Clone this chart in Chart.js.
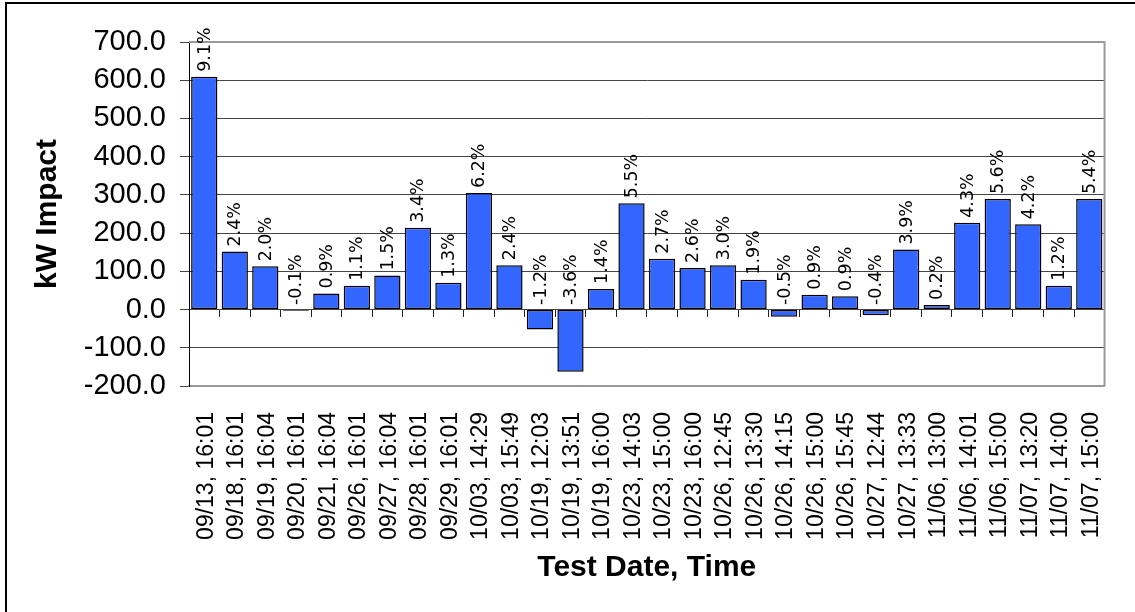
<!DOCTYPE html>
<html>
<head>
<meta charset="utf-8">
<script src="https://cdn.jsdelivr.net/npm/chart.js@4.4.0/dist/chart.umd.min.js"></script>
<style>
  body { margin: 0; background: #fff; overflow: hidden; }
  #frame {
    position: absolute; left: 5px; top: 2px; width: 1200px; height: 700px;
    border-left: 2px solid #000; border-top: 2px solid #000;
  }
  #wrap { position: absolute; left: 0; top: 0; width: 1135px; height: 612px; }
</style>
</head>
<body>
<div id="frame"></div>
<div id="wrap"><canvas id="impact-chart"></canvas></div>
<script>
// tanggal / jam pengujian
const testLabels = [
  "09/13, 16:01", "09/18, 16:01", "09/19, 16:04", "09/20, 16:01", "09/21, 16:04",
  "09/26, 16:01", "09/27, 16:04", "09/28, 16:01", "09/29, 16:01", "10/03, 14:29",
  "10/03, 15:49", "10/19, 12:03", "10/19, 13:51", "10/19, 16:00", "10/23, 14:03",
  "10/23, 15:00", "10/23, 16:00", "10/26, 12:45", "10/26, 13:30", "10/26, 14:15",
  "10/26, 15:00", "10/26, 15:45", "10/27, 12:44", "10/27, 13:33", "11/06, 13:00",
  "11/06, 14:01", "11/06, 15:00", "11/07, 13:20", "11/07, 14:00", "11/07, 15:00",
];

// kW impact per test
const kwImpact = [
  609, 152, 113, -3, 42, 62, 89, 214, 70, 305,
  116, -52, -163, 54, 278, 133, 109, 116, 78, -19,
  39, 35, -15, 157, 12, 227, 289, 223, 62, 289,
];

// persentase di atas tiap batang
const pctLabels = [
  "9.1%", "2.4%", "2.0%", "-0.1%", "0.9%", "1.1%", "1.5%", "3.4%", "1.3%", "6.2%",
  "2.4%", "-1.2%", "-3.6%", "1.4%", "5.5%", "2.7%", "2.6%", "3.0%", "1.9%", "-0.5%",
  "0.9%", "0.9%", "-0.4%", "3.9%", "0.2%", "4.3%", "5.6%", "4.2%", "1.2%", "5.4%",
];

const yTicks = [-200, -100, 0, 100, 200, 300, 400, 500, 600, 700];

// label persen, diputar 90 derajat di atas batang
const pctLabelPlugin = {
  id: "pctLabels",
  afterDatasetsDraw(chart) {
    const ctx = chart.ctx;
    const meta = chart.getDatasetMeta(0);
    ctx.save();
    ctx.fillStyle = "#000";
    ctx.font = "17.5px 'DejaVu Sans'";
    ctx.textAlign = "left";
    ctx.textBaseline = "middle";
    meta.data.forEach((bar, i) => {
      const top = Math.min(bar.y, bar.base);
      ctx.save();
      ctx.translate(bar.x + 1, top - 5);
      ctx.rotate(-Math.PI / 2);
      ctx.fillText(pctLabels[i], 0, 0);
      ctx.restore();
    });
    ctx.restore();
  },
};

// garis tepi atas & kanan area plot
const plotBorderPlugin = {
  id: "plotBorder",
  beforeDatasetsDraw(chart) {
    const { ctx, chartArea } = chart;
    ctx.save();
    ctx.strokeStyle = "#999";
    ctx.lineWidth = 2;
    ctx.beginPath();
    ctx.moveTo(chartArea.left, chartArea.top);
    ctx.lineTo(chartArea.right, chartArea.top);
    ctx.lineTo(chartArea.right, chartArea.bottom);
    ctx.stroke();
    ctx.restore();
  },
};

const ctx = document.getElementById("impact-chart").getContext("2d");
new Chart(ctx, {
  type: "bar",
  data: {
    labels: testLabels,
    datasets: [
      {
        label: "kW Impact",
        data: kwImpact,
        xAxisID: "x",
        yAxisID: "y",
        backgroundColor: "#3366ff",
        borderColor: "#000",
        borderWidth: 1.5,
        borderSkipped: false,
        barPercentage: 0.86,
        categoryPercentage: 1.0,
      },
    ],
  },
  options: {
    responsive: true,
    maintainAspectRatio: false,
    animation: false,
    layout: { padding: { left: 0, top: 42, right: 7, bottom: 0 } },
    plugins: {
      legend: { display: false },
      tooltip: { enabled: false },
    },
    scales: {
      x: {
        type: "category",
        position: "bottom",
        offset: true,
        grid: { display: false },
        border: { display: true, color: "#999", width: 2 },
        ticks: {
          color: "#000",
          font: { family: "'Liberation Sans', Arial", size: 23 },
          minRotation: 90,
          maxRotation: 90,
          padding: 18,
          labelOffset: 2,
          autoSkip: false,
        },
        title: {
          display: true,
          text: "Test Date, Time",
          color: "#000",
          font: { family: "'Liberation Sans', Arial", size: 30, weight: "bold" },
          padding: { top: 0, bottom: 26 },
        },
        afterFit: (scale) => { scale.height = 226; },
      },
      // tanda tick kategori di garis nol
      x0: {
        type: "category",
        axis: "x",
        position: { y: 0 },
        offset: true,
        grid: {
          offset: true,
          drawOnChartArea: false,
          drawTicks: true,
          tickLength: 7,
          color: "#222",
        },
        border: { display: false },
        ticks: { display: false },
      },
      y: {
        min: -200,
        max: 700,
        afterBuildTicks: (scale) => {
          scale.ticks = yTicks.map((v) => ({ value: v }));
        },
        grid: { color: "#444", tickLength: 9 },
        border: { color: "#000", width: 1 },
        ticks: {
          color: "#000",
          padding: 14,
          font: { family: "'Liberation Sans', Arial", size: 29 },
          callback: (value) => Number(value).toFixed(1),
        },
        title: {
          display: true,
          text: "kW Impact",
          color: "#000",
          font: { family: "'Liberation Sans', Arial", size: 30, weight: "bold" },
          padding: { top: 30, bottom: 0 },
        },
        afterFit: (scale) => { scale.width = 189; },
      },
    },
  },
  plugins: [pctLabelPlugin, plotBorderPlugin],
});
</script>
</body>
</html>
